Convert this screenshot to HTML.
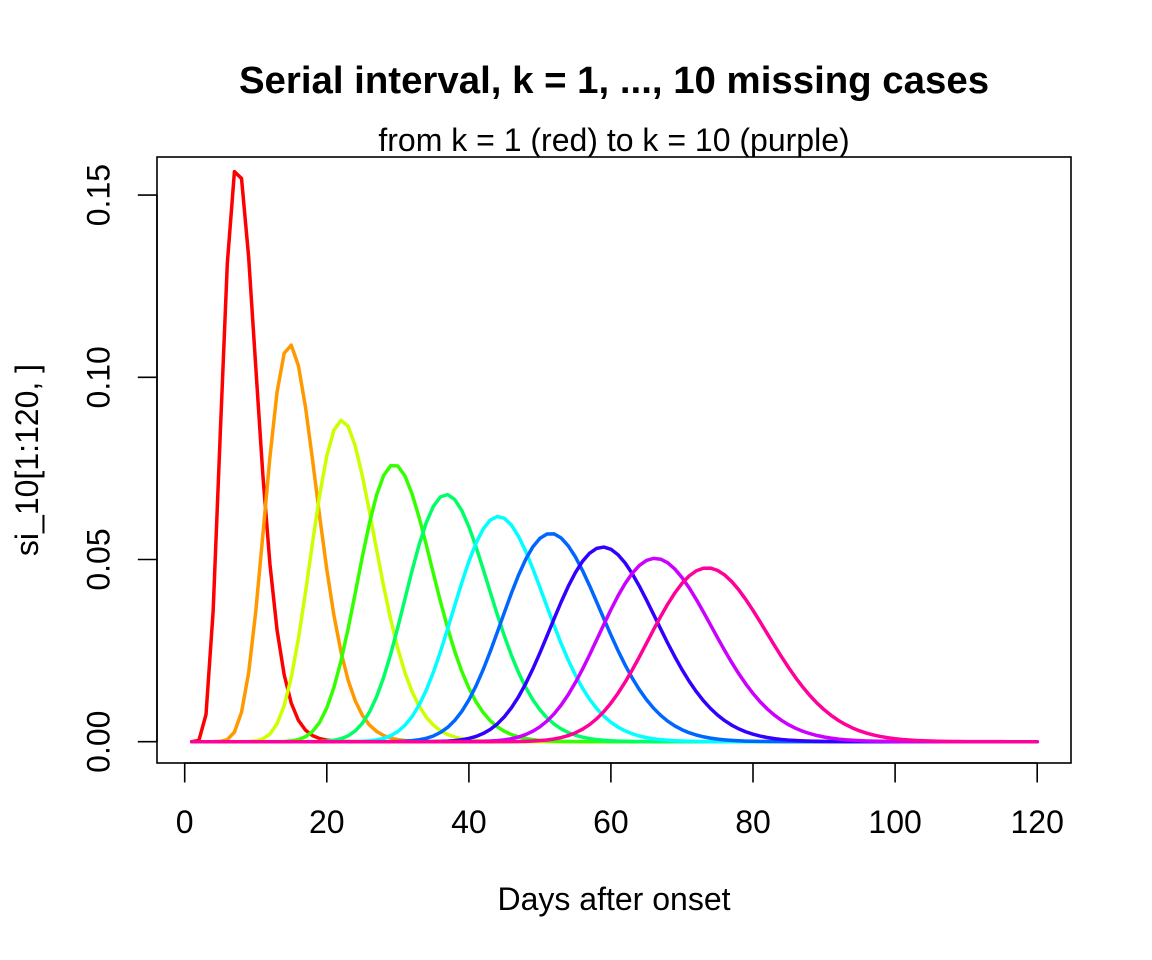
<!DOCTYPE html>
<html>
<head>
<meta charset="utf-8">
<style>
  html, body { margin: 0; padding: 0; background: #ffffff; }
  body { width: 1152px; height: 960px; overflow: hidden; }
  svg { display: block; }
  text { font-family: "Liberation Sans", Arial, Helvetica, sans-serif; fill: #000; }
</style>
</head>
<body>
<svg id="chart" width="1152" height="960" viewBox="0 0 1152 960" xmlns="http://www.w3.org/2000/svg">
  <rect x="0" y="0" width="1152" height="960" fill="#ffffff"/>

  <!-- Title -->
  <text x="614" y="93" font-size="38.4" font-weight="bold" text-anchor="middle">Serial interval, k = 1, ..., 10 missing cases</text>
  <text x="614" y="151" font-size="32" text-anchor="middle">from k = 1 (red) to k = 10 (purple)</text>

  <!-- Curves group (filled by script) -->
  <g id="curves" fill="none" stroke-width="3.5" stroke-linejoin="round" stroke-linecap="round"></g>

  <!-- Plot box -->
  <rect x="157" y="157" width="914" height="606" fill="none" stroke="#000" stroke-width="1.6"/>

  <!-- X axis -->
  <g stroke="#000" stroke-width="1.6" fill="none">
    <line x1="184.7" y1="763" x2="1037.2" y2="763"/>
    <line x1="184.7" y1="763" x2="184.7" y2="782.5"/>
    <line x1="326.8" y1="763" x2="326.8" y2="782.5"/>
    <line x1="468.9" y1="763" x2="468.9" y2="782.5"/>
    <line x1="610.9" y1="763" x2="610.9" y2="782.5"/>
    <line x1="753.0" y1="763" x2="753.0" y2="782.5"/>
    <line x1="895.1" y1="763" x2="895.1" y2="782.5"/>
    <line x1="1037.2" y1="763" x2="1037.2" y2="782.5"/>
  </g>
  <g font-size="32" text-anchor="middle">
    <text x="184.7" y="833">0</text>
    <text x="326.8" y="833">20</text>
    <text x="468.9" y="833">40</text>
    <text x="610.9" y="833">60</text>
    <text x="753.0" y="833">80</text>
    <text x="895.1" y="833">100</text>
    <text x="1037.2" y="833">120</text>
  </g>

  <!-- Y axis -->
  <g stroke="#000" stroke-width="1.6" fill="none">
    <line x1="157" y1="195.1" x2="157" y2="741.7"/>
    <line x1="157" y1="741.7" x2="137.8" y2="741.7"/>
    <line x1="157" y1="559.5" x2="137.8" y2="559.5"/>
    <line x1="157" y1="377.3" x2="137.8" y2="377.3"/>
    <line x1="157" y1="195.1" x2="137.8" y2="195.1"/>
  </g>
  <g font-size="32" text-anchor="middle">
    <text transform="translate(109.5,741.7) rotate(-90)">0.00</text>
    <text transform="translate(109.5,559.5) rotate(-90)">0.05</text>
    <text transform="translate(109.5,377.3) rotate(-90)">0.10</text>
    <text transform="translate(109.5,195.1) rotate(-90)">0.15</text>
  </g>

  <!-- Axis labels -->
  <text x="614" y="910" font-size="32" text-anchor="middle">Days after onset</text>
  <text transform="translate(38,460) rotate(-90)" font-size="32" text-anchor="middle">si_10[1:120, ]</text>
</svg>

<script>
(function(){
  function lgamma(z){
    var g = 7;
    var c = [0.99999999999980993, 676.5203681218851, -1259.1392167224028,
             771.32342877765313, -176.61502916214059, 12.507343278686905,
             -0.13857109526572012, 9.9843695780195716e-6, 1.5056327351493116e-7];
    if (z < 0.5) return Math.log(Math.PI / Math.sin(Math.PI * z)) - lgamma(1 - z);
    z -= 1;
    var x = c[0];
    for (var i = 1; i < g + 2; i++) x += c[i] / (z + i);
    var t = z + g + 0.5;
    return 0.5 * Math.log(2 * Math.PI) + (z + 0.5) * Math.log(t) - t + Math.log(x);
  }
  var mean = 7.35, scale = 0.95;
  var shape = mean / scale;
  var lg = lgamma(shape);
  function dg(x){
    if (x <= 0) return 0;
    return Math.exp((shape - 1) * Math.log(x) - x / scale - lg - shape * Math.log(scale));
  }
  function integ(a, b){
    if (b <= a) return 0;
    var n = 40, h = (b - a) / n, s = dg(a) + dg(b);
    for (var i = 1; i < n; i++) s += dg(a + i * h) * (i % 2 ? 4 : 2);
    return s * h / 3;
  }
  var N = 130;
  var w = [];
  for (var d = 0; d < N; d++) w.push(integ(Math.max(0, d - 0.5), d + 0.5));
  var curves = [w.slice()];
  var cur = w.slice();
  for (var k = 2; k <= 10; k++) {
    var nx = [];
    for (var d2 = 0; d2 < N; d2++) {
      var s = 0;
      for (var i = 0; i <= d2; i++) s += cur[i] * w[d2 - i];
      nx.push(s);
    }
    curves.push(nx);
    cur = nx;
  }
  var cols = ["#FF0000","#FF9900","#CCFF00","#33FF00","#00FF66","#00FFFF","#0066FF","#3300FF","#CC00FF","#FF0099"];
  var g = document.getElementById("curves");
  var ns = "http://www.w3.org/2000/svg";
  for (var k2 = 0; k2 < 10; k2++) {
    var pts = [];
    for (var x = 1; x <= 120; x++) {
      var X = 184.7 + x * 7.104;
      var Y = 741.7 - curves[k2][x - 1] * 3644;
      pts.push(X.toFixed(2) + "," + Y.toFixed(2));
    }
    var pl = document.createElementNS(ns, "polyline");
    pl.setAttribute("points", pts.join(" "));
    pl.setAttribute("stroke", cols[k2]);
    g.appendChild(pl);
  }
})();
</script>
</body>
</html>
